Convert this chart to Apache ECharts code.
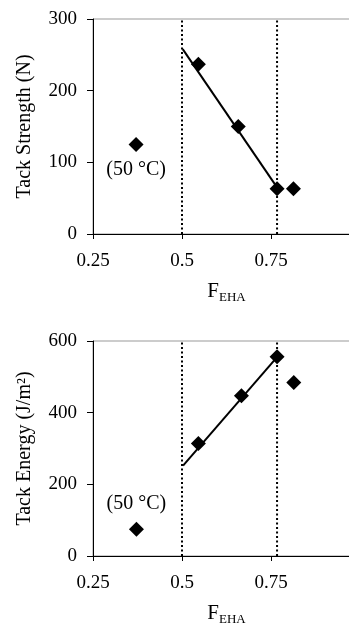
<!DOCTYPE html>
<html><head><meta charset="utf-8">
<script src="https://cdn.jsdelivr.net/npm/echarts@6/dist/echarts.min.js"></script>
<style>html,body{margin:0;padding:0;background:#fff}#c{width:349px;height:626px}</style>
</head><body><div id="c"></div>
<script>
// ---- data ----
const strengthX = [0.371, 0.546, 0.658, 0.767, 0.813];
const strengthY = [125, 237, 150, 63, 63];
const strengthFitX = [0.502, 0.767];
const strengthFitY = [258, 65];

const energyX = [0.372, 0.546, 0.667, 0.767, 0.814];
const energyY = [75, 314, 447, 556, 484];
const energyFitX = [0.503, 0.767];
const energyFitY = [252, 555];

const boundaries = [0.5, 0.767];
const xTicks = [0.25, 0.5, 0.75];
const strengthTicks = [0, 100, 200, 300];
const energyTicks = [0, 200, 400, 600];
const tempLabel = '(50 °C)';
// ---------------

const FONT = 'Liberation Serif';
const chart = echarts.init(document.getElementById('c'));

function xAxis(gi) {
  return {
    gridIndex: gi, type: 'value', min: 0.25, max: 1, interval: 0.25,
    axisLine: {show: true, lineStyle: {color: '#000', width: 1}},
    axisTick: {show: true, length: 5, lineStyle: {color: '#000'}},
    splitLine: {show: false},
    axisLabel: {color: '#000', fontFamily: FONT, fontSize: 19, margin: 18, showMaxLabel: false,
      formatter: v => xTicks.indexOf(+v.toFixed(2)) >= 0 ? String(+v.toFixed(2)) : ''},
    name: '{f|F}{s|EHA}', nameLocation: 'middle', nameGap: 47,
    nameTextStyle: {rich: {
      f: {fontFamily: FONT, fontSize: 21, color: '#000', verticalAlign: 'bottom'},
      s: {fontFamily: FONT, fontSize: 13, color: '#000', verticalAlign: 'bottom', padding: [0,0,-2,0]}
    }}
  };
}
function yAxis(gi, max, interval, ticks, name) {
  return {
    gridIndex: gi, type: 'value', min: 0, max: max, interval: interval,
    axisLine: {show: true, lineStyle: {color: '#000', width: 1}},
    axisTick: {show: true, length: 6, lineStyle: {color: '#000'}},
    splitLine: {show: false},
    axisLabel: {color: '#000', fontFamily: FONT, fontSize: 19, margin: 16,
      formatter: v => ticks.indexOf(v) >= 0 ? String(v) : ''},
    name: name, nameLocation: 'middle', nameGap: 58,
    nameTextStyle: {fontFamily: FONT, fontSize: 20, color: '#000'}
  };
}
function dotted(gi, ymax) {
  return boundaries.map(b => ({
    type: 'line', xAxisIndex: gi, yAxisIndex: gi, data: [[b, 0], [b, ymax]],
    symbol: 'none', silent: true, z: 1,
    lineStyle: {color: '#000', width: 2, type: [2, 2.5]}
  }));
}
function fit(gi, xs, ys) {
  return {type: 'line', xAxisIndex: gi, yAxisIndex: gi, data: xs.map((x, i) => [x, ys[i]]),
    symbol: 'none', silent: true, z: 2, lineStyle: {color: '#000', width: 2}};
}
function pts(gi, xs, ys, labelPos) {
  return {type: 'scatter', xAxisIndex: gi, yAxisIndex: gi, symbol: 'diamond', symbolSize: 15, z: 3,
    itemStyle: {color: '#000', opacity: 1},
    data: xs.map((x, i) => ({value: [x, ys[i]],
      label: i === 0 ? {show: true, position: labelPos, distance: 8, formatter: tempLabel,
        fontFamily: FONT, fontSize: 20, color: '#000', opacity: 1, textBorderWidth: 0} : {show: false}}))};
}

chart.setOption({
  animation: false,
  grid: [
    {left: 93, top: 19, width: 267, height: 215, show: true, borderColor: '#999', borderWidth: 1,
     containLabel: false, outerBoundsMode: 'none'},
    {left: 93, top: 341, width: 267, height: 215, show: true, borderColor: '#999', borderWidth: 1,
     containLabel: false, outerBoundsMode: 'none'}
  ],
  xAxis: [xAxis(0), xAxis(1)],
  yAxis: [yAxis(0, 300, 100, strengthTicks, 'Tack Strength (N)'), yAxis(1, 600, 200, energyTicks, 'Tack Energy (J/m²)')],
  series: [
    ...dotted(0, 300), fit(0, strengthFitX, strengthFitY), pts(0, strengthX, strengthY, 'bottom'),
    ...dotted(1, 600), fit(1, energyFitX, energyFitY), pts(1, energyX, energyY, 'top')
  ]
});
</script></body></html>
